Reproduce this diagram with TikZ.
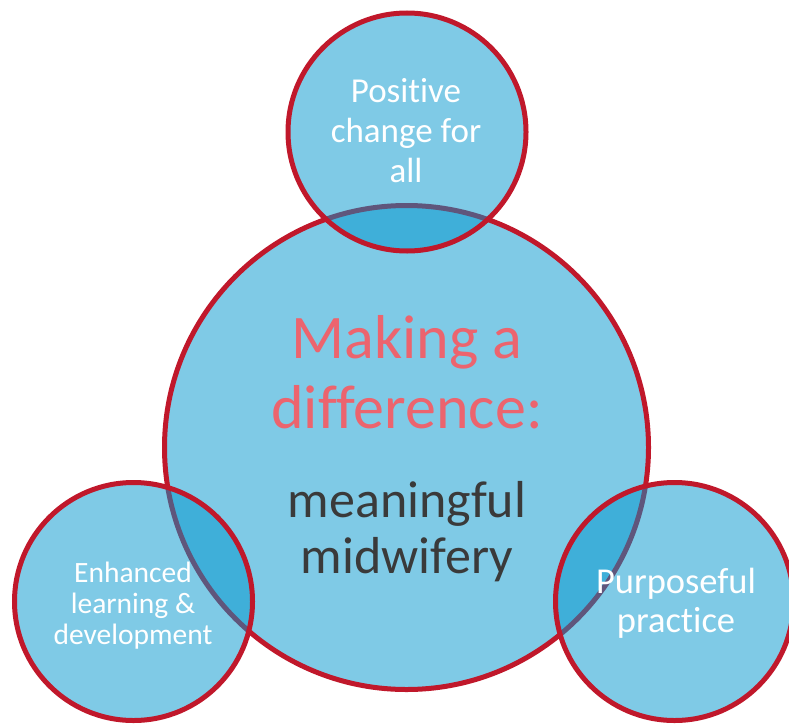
\documentclass[tikz,border=0pt]{standalone}
\usepackage{fontspec}
\setmainfont{Carlito}[Ligatures=NoCommon]
\definecolor{bubblefill}{RGB}{0,149,205}
\definecolor{bubbleline}{RGB}{192,24,43}
\definecolor{headpink}{RGB}{236,100,110}
\definecolor{darktext}{RGB}{58,58,58}
\tikzset{
  bubble/.style={circle, draw=bubbleline, line width=5pt, fill=bubblefill,
    fill opacity=0.5, inner sep=0pt, outer sep=0pt},
  bigbubble/.style={bubble, minimum size=484pt},
  smallbubble/.style={bubble, minimum size=238pt},
  label/.style={anchor=base, align=center, inner sep=0pt, text=white},
}
\begin{document}
\begin{tikzpicture}[x=1pt, y=-1pt]
  \useasboundingbox (0,0) rectangle (789,725);
  % central circle first, the three satellites overlap it
  \node[bigbubble] (main) at (406.5,447.5) {};
  \node[smallbubble] (top) at (407,132) {};
  \node[smallbubble] (left) at (133.5,601.5) {};
  \node[smallbubble] (right) at (674.5,601.5) {};
  % texts, each placed at the baseline of its last line
  \node[label, text=headpink, font=\fontsize{62}{70}\selectfont] (head) at (407,428)
    {Making a\\difference:};
  \node[label, text=darktext, font=\fontsize{52}{56}\selectfont] (sub) at (407,573)
    {meaningful\\midwifery};
  \node[label, font=\fontsize{35}{40}\selectfont] (toptext) at (406,182)
    {Positive\\change for\\all};
  \node[label, font=\fontsize{29.5}{31}\selectfont] (lefttext) at (133,644)
    {Enhanced\\learning \&\\development};
  \node[label, font=\fontsize{36.5}{39}\selectfont] (righttext) at (676,632)
    {Purposeful\\practice};
\end{tikzpicture}
\end{document}
